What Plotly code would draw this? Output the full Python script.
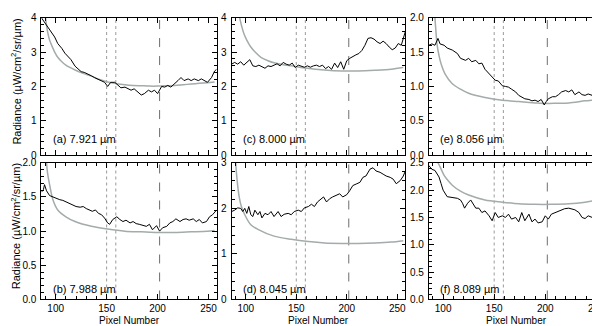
import plotly.graph_objects as go

# ---------------- data ----------------
# (a) 7.921 um
ax = [86, 89, 92, 96, 99, 102, 106, 109, 112, 115, 119, 122, 125, 128, 132, 135, 138, 141, 145, 148,
      151, 154, 158, 161, 164, 168, 171, 174, 177, 181, 184, 187, 191, 194, 197, 200, 204, 207, 210, 213,
      217, 220, 223, 226, 230, 233, 236, 240, 243, 246, 249, 253, 256, 258]
ay = [4.0, 3.87, 3.73, 3.58, 3.44, 3.25, 3.11, 2.97, 2.88, 2.78, 2.59, 2.5, 2.43, 2.41, 2.36, 2.31, 2.26, 2.22, 2.17, 2.12,
      2.0, 2.12, 2.12, 2.03, 1.96, 1.98, 1.93, 1.89, 1.93, 1.84, 1.75, 1.79, 1.89, 1.84, 1.89, 1.79, 2.0, 1.98, 2.03, 1.98,
      2.08, 2.17, 2.26, 2.17, 2.22, 2.17, 2.22, 2.17, 2.22, 2.17, 2.12, 2.26, 2.45, 2.5]
ga_x = [90, 92, 94, 96, 99, 102, 106, 110, 119, 127, 135, 143, 151, 160, 168, 176, 184, 192, 200, 209, 217, 225, 233, 241, 249, 256]
ga_y = [4.0, 3.6, 3.35, 3.2, 3.0, 2.85, 2.72, 2.62, 2.48, 2.38, 2.3, 2.2, 2.13, 2.08, 2.05, 2.03, 2.02, 2.01, 2.01, 2.02, 2.03, 2.05, 2.07, 2.09, 2.11, 2.13]

# (b) 7.988 um
bx = [86, 88, 89, 91, 94, 97, 101, 104, 107, 110, 114, 117, 120, 124, 127, 130, 133, 136, 139, 142,
      145, 148, 151, 153, 156, 160, 163, 166, 169, 173, 176, 179, 182, 186, 189, 192, 195, 199, 202, 205,
      209, 212, 215, 218, 222, 225, 228, 231, 235, 238, 241, 244, 248, 251, 254, 258]
by = [1.57, 1.61, 1.68, 1.59, 1.52, 1.5, 1.47, 1.46, 1.45, 1.43, 1.4, 1.39, 1.36, 1.35, 1.36, 1.33, 1.31, 1.29, 1.31, 1.26,
      1.24, 1.19, 1.12, 1.1, 1.17, 1.21, 1.17, 1.14, 1.16, 1.12, 1.14, 1.11, 1.1, 1.08, 1.07, 1.1, 1.02, 1.08, 1.0, 1.05,
      1.07, 1.12, 1.14, 1.18, 1.14, 1.17, 1.18, 1.16, 1.18, 1.14, 1.17, 1.12, 1.14, 1.21, 1.24, 1.31]
gb_x = [91, 92, 94, 97, 102, 110, 119, 135, 151, 168, 184, 200, 217, 233, 249, 256]
gb_y = [2.0, 1.85, 1.68, 1.47, 1.31, 1.21, 1.14, 1.07, 1.03, 1.0, 0.99, 0.98, 0.98, 0.99, 1.0, 1.01]

# (c) 8.000 um
cx = [86, 89, 92, 95, 98, 101, 104, 107, 110, 113, 116, 119, 122, 125, 128, 131, 134, 137, 140, 143,
      146, 149, 152, 155, 158, 161, 164, 167, 170, 173, 176, 179, 182, 185, 188, 191, 194, 197, 200, 203,
      206, 209, 212, 215, 218, 221, 224, 227, 230, 233, 236, 239, 242, 245, 248, 251, 254, 256, 258]
cy = [2.65, 2.7, 2.65, 2.72, 2.62, 2.7, 2.78, 2.6, 2.58, 2.62, 2.57, 2.53, 2.6, 2.58, 2.62, 2.66, 2.6, 2.7, 2.65, 2.62,
      2.68, 2.55, 2.62, 2.58, 2.56, 2.6, 2.56, 2.6, 2.62, 2.58, 2.62, 2.52, 2.58, 2.5, 2.68, 2.55, 2.72, 2.5, 2.75, 2.82,
      2.88, 2.92, 2.96, 3.05, 3.2, 3.4, 3.42, 3.38, 3.3, 3.25, 3.32, 3.25, 3.15, 3.07, 3.12, 3.25, 3.2, 3.4, 3.6]
gc_x = [94, 96, 98, 101, 105, 110, 115, 122, 128, 136, 145, 161, 178, 195, 211, 228, 244, 256]
gc_y = [4.0, 3.75, 3.55, 3.35, 3.15, 2.98, 2.85, 2.75, 2.69, 2.64, 2.6, 2.53, 2.48, 2.45, 2.45, 2.47, 2.5, 2.55]

# (d) 8.045 um
dx = [86, 89, 92, 95, 97, 99, 101, 103, 105, 107, 109, 112, 114, 116, 119, 122, 125, 128, 132, 135,
      138, 142, 145, 148, 152, 155, 158, 162, 165, 168, 171, 175, 177, 180, 183, 186, 190, 193, 196, 200,
      203, 206, 210, 213, 216, 219, 223, 226, 229, 233, 236, 239, 243, 246, 249, 253, 256, 258]
dy = [1.93, 1.96, 2.01, 2.0, 1.93, 2.0, 1.89, 2.04, 1.86, 1.82, 1.96, 1.86, 1.93, 1.79, 1.89, 1.86, 1.93, 1.82, 1.93, 1.82,
      1.87, 1.89, 1.86, 1.93, 1.96, 1.93, 2.01, 2.04, 2.09, 2.04, 2.14, 2.21, 2.25, 2.14, 2.21, 2.25, 2.29, 2.32, 2.25, 2.3,
      2.39, 2.5, 2.54, 2.57, 2.68, 2.71, 2.86, 2.89, 2.82, 2.79, 2.75, 2.71, 2.68, 2.64, 2.54, 2.61, 2.71, 2.82]
gd_x = [90, 91, 92, 93.5, 95.5, 99, 105, 112, 128, 145, 162, 178, 195, 211, 228, 244, 256]
gd_y = [3.0, 2.72, 2.5, 2.25, 2.05, 1.86, 1.64, 1.54, 1.39, 1.32, 1.27, 1.24, 1.23, 1.23, 1.24, 1.26, 1.29]

# (e) 8.056 um
ex = [86, 89, 92, 95, 97, 101, 104, 109, 114, 117, 122, 125, 128, 132, 135, 138, 141, 145, 148, 151,
      154, 158, 161, 164, 167, 171, 174, 177, 180, 184, 187, 190, 193, 196, 199, 201, 203, 207, 210, 213,
      216, 220, 223, 226, 229, 233, 236, 239, 242, 246, 249, 252, 255, 258]
ey = [1.6, 1.62, 1.6, 1.7, 1.62, 1.6, 1.56, 1.53, 1.48, 1.41, 1.38, 1.41, 1.36, 1.38, 1.33, 1.34, 1.25, 1.18, 1.13, 1.09,
      1.08, 1.01, 1.0, 0.99, 0.96, 0.92, 0.87, 0.84, 0.82, 0.81, 0.79, 0.8, 0.78, 0.81, 0.73, 0.78, 0.82, 0.85, 0.85, 0.88,
      0.92, 0.94, 0.92, 0.95, 0.88, 0.92, 0.88, 0.87, 0.89, 0.87, 0.8, 0.94, 0.99, 1.01]
ge_x = [92, 93, 94, 96, 98, 102, 109, 117, 125, 141, 158, 174, 190, 200, 212, 223, 239, 252, 256]
ge_y = [2.0, 1.8, 1.62, 1.45, 1.33, 1.18, 1.04, 0.96, 0.9, 0.84, 0.8, 0.78, 0.76, 0.75, 0.755, 0.76, 0.79, 0.81, 0.82]

# (f) 8.089 um
fx = [86, 89, 92, 96, 98, 100, 104, 107, 110, 114, 117, 119, 121, 124, 127, 129, 132, 135, 138, 141,
      145, 148, 151, 154, 158, 161, 164, 167, 171, 174, 177, 180, 184, 187, 190, 193, 197, 200, 203, 206,
      210, 213, 216, 219, 223, 226, 229, 233, 236, 239, 242, 246, 249, 252, 255, 257]
fy = [2.45, 2.38, 2.36, 2.24, 2.12, 2.0, 1.88, 1.87, 1.85, 1.85, 1.82, 1.76, 1.67, 1.76, 1.82, 1.76, 1.67, 1.67, 1.59, 1.62,
      1.53, 1.44, 1.59, 1.5, 1.53, 1.5, 1.56, 1.47, 1.5, 1.42, 1.59, 1.44, 1.56, 1.42, 1.47, 1.4, 1.42, 1.53, 1.47, 1.56,
      1.59, 1.62, 1.63, 1.66, 1.67, 1.66, 1.64, 1.59, 1.5, 1.48, 1.53, 1.5, 1.53, 1.54, 1.5, 1.76]
gf_x = [95, 97.4, 101, 105, 109, 117, 125, 141, 158, 174, 190, 206, 223, 239, 252, 256]
gf_y = [2.5, 2.41, 2.27, 2.17, 2.09, 1.98, 1.91, 1.82, 1.78, 1.75, 1.74, 1.74, 1.75, 1.78, 1.82, 1.83]

panel_labels = ["(a) 7.921 µm", "(b) 7.988 µm", "(c) 8.000 µm", "(d) 8.045 µm", "(e) 8.056 µm", "(f) 8.089 µm"]
y_ranges = [[0, 4], [0, 2.0], [0, 4], [0, 3], [0, 2.0], [0, 2.5]]
y_dticks = [1, 0.5, 1, 1, 0.5, 0.5]
y_formats = ["d", ".1f", "d", "d", ".1f", ".1f"]
x_range = [86, 258]
x_ticks = [100, 150, 200, 250]
dotted_x = [150, 159]
dashed_x = [202]

data_series = [(ax, ay), (bx, by), (cx, cy), (dx, dy), (ex, ey), (fx, fy)]
model_series = [(ga_x, ga_y), (gb_x, gb_y), (gc_x, gc_y), (gd_x, gd_y), (ge_x, ge_y), (gf_x, gf_y)]

# ---------------- layout ----------------
W, H = 600, 326
col_px = [(33.5, 209), (224, 398), (421.5, 597.5)]
row_px = [(5, 147), (155, 296.5)]  # top row, bottom row (pixel y)

FONT = "Liberation Sans, Arial, Helvetica, sans-serif"
fig = go.Figure()
layout = dict(width=W, height=H, margin=dict(l=0, r=0, t=0, b=0),
              paper_bgcolor="white", plot_bgcolor="white", showlegend=False,
              font=dict(family=FONT, size=11, color="black"))
shapes = []
annotations = []

# panel order: a (col0,row0), b (col0,row1), c (col1,row0), d (col1,row1), e (col2,row0), f (col2,row1)
for i in range(6):
    col, row = i // 2, i % 2
    n = i + 1
    xa = "x" if n == 1 else f"x{n}"
    ya = "y" if n == 1 else f"y{n}"
    xd = [col_px[col][0] / W, col_px[col][1] / W]
    yd = [1 - row_px[row][1] / H, 1 - row_px[row][0] / H]
    axis_common = dict(showline=True, linecolor="black", linewidth=1, mirror="ticks",
                       ticks="inside", ticklen=5, tickcolor="black", tickwidth=1,
                       showgrid=False, zeroline=False,
                       tickfont=dict(family=FONT, size=10, color="black"))
    layout["xaxis" if n == 1 else f"xaxis{n}"] = dict(
        domain=xd, range=x_range, anchor=ya, tickvals=x_ticks,
        showticklabels=(row == 1),
        minor=dict(ticks="inside", ticklen=3, dtick=10, tick0=0, tickcolor="black", showgrid=False),
        **axis_common)
    layout["yaxis" if n == 1 else f"yaxis{n}"] = dict(
        domain=yd, range=y_ranges[i], anchor=xa, dtick=y_dticks[i], tick0=0,
        tickformat=y_formats[i], ticklabelstandoff=2,
        minor=dict(ticks="inside", ticklen=3, dtick=y_dticks[i] / 5, tick0=0, tickcolor="black", showgrid=False),
        **axis_common)

    mx, my = model_series[i]
    fig.add_trace(go.Scatter(x=mx, y=my, mode="lines", xaxis=xa, yaxis=ya,
                             line=dict(color="#a3abab", width=1.5, shape="spline", smoothing=0.8)))
    sx, sy = data_series[i]
    fig.add_trace(go.Scatter(x=sx, y=sy, mode="lines", xaxis=xa, yaxis=ya,
                             line=dict(color="black", width=1)))

    for xv in dotted_x:
        shapes.append(dict(type="line", xref=xa, yref=f"{ya} domain", x0=xv, x1=xv, y0=0, y1=1,
                           line=dict(color="#9a9a9a", width=1, dash="dot"), layer="below"))
    for xv in dashed_x:
        shapes.append(dict(type="line", xref=xa, yref=f"{ya} domain", x0=xv, x1=xv, y0=0, y1=1,
                           line=dict(color="#6e6e6e", width=1, dash="dash"), layer="below"))

    label_y = 0.12 if row == 0 else 0.08
    annotations.append(dict(text=panel_labels[i], xref=f"{xa} domain", yref=f"{ya} domain",
                            x=0.055, y=label_y, xanchor="left", yanchor="middle", showarrow=False,
                            font=dict(family=FONT, size=11, color="black")))
    if row == 1:
        annotations.append(dict(text="Pixel Number", xref=f"{xa} domain", yref="paper",
                                x=0.5, y=1 - 318.5 / H, xanchor="center", yanchor="middle", showarrow=False,
                                font=dict(family=FONT, size=10, color="black")))

# y axis titles
for row in range(2):
    yc = 1 - ((row_px[row][0] + row_px[row][1]) / 2 - 5) / H
    annotations.append(dict(text="Radiance (µW/cm<sup>2</sup>/sr/µm)", xref="paper", yref="paper",
                            x=8 / W, y=yc, xanchor="center", yanchor="middle", textangle=-90,
                            showarrow=False, font=dict(family=FONT, size=11, color="black")))

layout["shapes"] = shapes
layout["annotations"] = annotations
fig.update_layout(**layout)
fig.write_html("out.html")
